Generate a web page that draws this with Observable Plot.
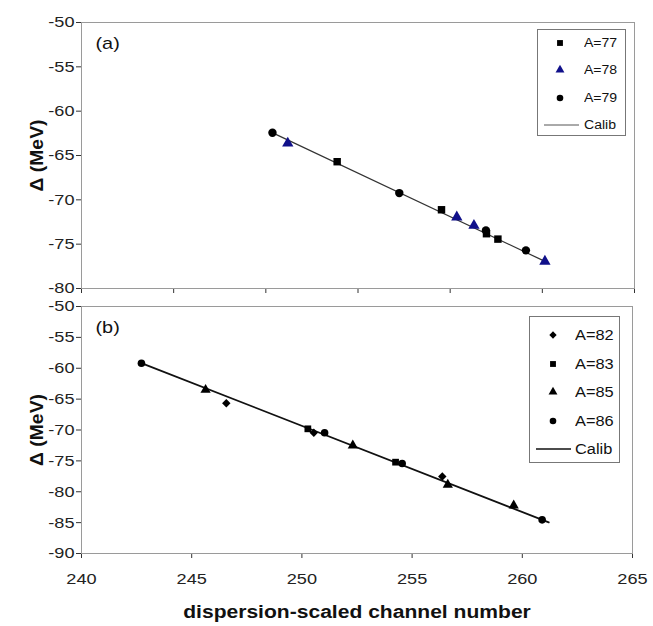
<!DOCTYPE html>
<html><head><meta charset="utf-8">
<script src="https://cdn.jsdelivr.net/npm/d3@7"></script>
<script src="https://cdn.jsdelivr.net/npm/@observablehq/plot@0.6"></script>
<style>
body{margin:0;background:#fff;font-family:"Liberation Sans",Arial,sans-serif;}
#wrap{position:relative;width:653px;height:626px;overflow:hidden;}
.legend{position:absolute;border:1px solid #777;background:#fff;box-sizing:border-box;}
.legend .row{position:absolute;left:0;right:0;height:20px;}
.legend svg{position:absolute;left:0;top:0;}
.legend span{position:absolute;color:#111;white-space:nowrap;transform-origin:left center;}
</style></head>
<body><div id="wrap"></div>
<script>
// ---------- Panel (a) data ----------
const topNames = ["A=77", "A=78", "A=79"];
const topSymbols = ["square", "triangle", "circle"];
const topColors = ["#000000", "#10108a", "#000000"];
const a77x = [253.87, 259.53, 261.97, 262.59];
const a77y = [-65.70, -71.12, -73.82, -74.43];
const a78x = [251.19, 260.36, 261.29, 265.14];
const a78y = [-63.61, -71.95, -72.89, -76.94];
const a79x = [250.36, 257.24, 261.94, 264.11];
const a79y = [-62.44, -69.24, -73.45, -75.70];
const calibTopX = [250.2, 265.2];
const calibTopY = [-62.28, -77.0];
const topYTicks = [-80, -75, -70, -65, -60, -55, -50];
const topXTicks = [240, 245, 250, 255, 260, 265, 270];

// ---------- Panel (b) data ----------
const botNames = ["A=82", "A=83", "A=85", "A=86"];
const botSymbols = ["diamond2", "square", "triangle", "circle"];
const b82x = [246.57, 250.54, 256.37];
const b82y = [-65.66, -70.45, -77.53];
const b83x = [250.27, 254.25];
const b83y = [-69.81, -75.21];
const b85x = [245.63, 252.31, 256.62, 259.61];
const b85y = [-63.49, -72.51, -78.87, -82.23];
const b86x = [242.72, 251.03, 254.55, 260.90];
const b86y = [-59.18, -70.45, -75.43, -84.55];
const calibBotX = [242.6, 261.2];
const calibBotY = [-59.0, -84.96];
const botYTicks = [-90, -85, -80, -75, -70, -65, -60, -55, -50];
const botXTicks = [240, 245, 250, 255, 260, 265];

const toRows = (xs, ys, name) => xs.map((x, i) => ({x, y: ys[i], name}));
const topData = [
  ...toRows(a77x, a77y, topNames[0]),
  ...toRows(a78x, a78y, topNames[1]),
  ...toRows(a79x, a79y, topNames[2])
];
const botData = [
  ...toRows(b82x, b82y, botNames[0]),
  ...toRows(b83x, b83y, botNames[1]),
  ...toRows(b85x, b85y, botNames[2]),
  ...toRows(b86x, b86y, botNames[3])
];
const calibTop = toRows(calibTopX, calibTopY, "Calib");
const calibBot = toRows(calibBotX, calibBotY, "Calib");

const wrap = document.getElementById("wrap");
const fmt = d => String(d);
const STRETCH = 1.17;
const baseStyle = {fontFamily: "Liberation Sans, Arial, sans-serif", fontSize: "15.5px", color: "#333", background: "transparent", overflow: "visible"};

// ---------- Top plot ----------
const topPlot = Plot.plot({
  width: 653, height: 296,
  marginTop: 22, marginBottom: 8, marginLeft: 81, marginRight: 19,
  style: baseStyle,
  x: {domain: [240, 270], ticks: topXTicks, tickFormat: () => "", tickSize: 5, line: true, label: null},
  y: {domain: [-80, -50], ticks: topYTicks, tickFormat: fmt, tickSize: 5, tickPadding: 2, line: true,
      label: "Δ (MeV)", labelAnchor: "center", labelOffset: 51},
  symbol: {domain: topNames, range: topSymbols},
  color: {domain: topNames, range: topColors},
  marks: [
    Plot.frame({stroke: "#9a9a9a"}),
    Plot.line(calibTop, {x: "x", y: "y", stroke: "#333", strokeWidth: 1.2}),
    Plot.dot(topData, {x: "x", y: "y", symbol: "name", fill: "name", r: 4.2, stroke: "none"}),
    Plot.text(["(a)"], {frameAnchor: "top-left", dx: 14, dy: 14, fontSize: 17, fill: "#111", textAnchor: "start"})
  ]
});
topPlot.style.position = "absolute";
topPlot.style.top = "0px";
topPlot.style.left = "0px";
wrap.appendChild(topPlot);

// ---------- Bottom plot ----------
const botPlot = Plot.plot({
  width: 653, height: 330,
  marginTop: 10, marginBottom: 73, marginLeft: 81, marginRight: 21,
  style: baseStyle,
  x: {domain: [240, 265], ticks: botXTicks, tickFormat: fmt, tickSize: 5, tickPadding: 14, line: true,
      label: "dispersion-scaled channel number", labelAnchor: "center", labelOffset: 64},
  y: {domain: [-90, -50], ticks: botYTicks, tickFormat: fmt, tickSize: 5, tickPadding: 2, line: true,
      label: "Δ (MeV)", labelAnchor: "center", labelOffset: 51},
  symbol: {domain: botNames, range: botSymbols},
  marks: [
    Plot.frame({stroke: "#9a9a9a"}),
    Plot.line(calibBot, {x: "x", y: "y", stroke: "#111", strokeWidth: 1.8}),
    Plot.dot(botData, {x: "x", y: "y", symbol: "name", fill: "#000", r: 3.8, stroke: "none"}),
    Plot.text(["(b)"], {frameAnchor: "top-left", dx: 14, dy: 14, fontSize: 17, fill: "#111", textAnchor: "start"})
  ]
});
botPlot.style.position = "absolute";
botPlot.style.top = "296px";
botPlot.style.left = "0px";
wrap.appendChild(botPlot);

function stretch(t, f) {
  const len = t.getComputedTextLength();
  if (len > 0) { t.setAttribute("textLength", (len * f).toFixed(1)); t.setAttribute("lengthAdjust", "spacingAndGlyphs"); }
}
// Style axis labels and tick labels
for (const svg of [topPlot, botPlot]) {
  svg.querySelectorAll("text").forEach(t => { t.textContent = t.textContent.replace(/\s*[↑→↓←]\s*/g, ""); });
  svg.querySelectorAll('[aria-label="y-axis label"] text').forEach(t => {
    t.setAttribute("font-weight", "bold"); t.setAttribute("font-size", "18px"); t.setAttribute("fill", "#111");
    t.setAttribute("textLength", "72"); t.setAttribute("lengthAdjust", "spacingAndGlyphs");
  });
  svg.querySelectorAll('[aria-label="x-axis label"] text').forEach(t => {
    t.setAttribute("font-weight", "bold"); t.setAttribute("font-size", "18px"); t.setAttribute("fill", "#111");
    stretch(t, STRETCH);
  });
  svg.querySelectorAll('[aria-label="y-axis tick label"] text, [aria-label="x-axis tick label"] text').forEach(t => {
    t.setAttribute("fill", "#222");
    stretch(t, STRETCH);
  });
  svg.querySelectorAll('[aria-label="text"] text').forEach(t => stretch(t, STRETCH));
}

// ---------- Legends (HTML) ----------
function legend(box, names, symbols, colors, opts) {
  const div = document.createElement("div");
  div.className = "legend";
  Object.assign(div.style, {left: box[0] + "px", top: box[1] + "px", width: box[2] + "px", height: box[3] + "px"});
  const all = [...names, "Calib"];
  all.forEach((name, i) => {
    const row = document.createElement("div");
    row.className = "row";
    row.style.top = (opts.first + i * opts.step - 10) + "px";
    const svg = d3.create("svg").attr("width", box[2]).attr("height", 20);
    if (name === "Calib") {
      svg.append("line").attr("x1", opts.lineX[0]).attr("x2", opts.lineX[1]).attr("y1", 10).attr("y2", 10)
        .attr("stroke", opts.lineColor).attr("stroke-width", opts.lineWidth);
    } else {
      const sym = {square: d3.symbolSquare, triangle: d3.symbolTriangle, circle: d3.symbolCircle, diamond2: d3.symbolDiamond2}[symbols[i]];
      svg.append("path").attr("d", d3.symbol(sym, Math.PI * opts.r * opts.r)())
        .attr("transform", `translate(${opts.markX},10)`).attr("fill", colors ? colors[i] : "#000");
    }
    row.appendChild(svg.node());
    const sp = document.createElement("span");
    sp.textContent = name;
    Object.assign(sp.style, {left: opts.textX + "px", top: "0px", lineHeight: "20px", fontSize: opts.fontSize + "px", transform: `scaleX(${STRETCH})`});
    row.appendChild(sp);
    div.appendChild(row);
  });
  wrap.appendChild(div);
}
legend([537, 29, 89, 107], topNames, topSymbols, topColors,
  {first: 13, step: 27.3, markX: 22, textX: 46, lineX: [6, 41], r: 3.3, fontSize: 12, lineColor: "#555", lineWidth: 1});
legend([529, 316, 91, 147], botNames, botSymbols, null,
  {first: 18, step: 28.5, markX: 23, textX: 45, lineX: [6, 41], r: 3.3, fontSize: 14, lineColor: "#111", lineWidth: 1.6});
</script>
</body></html>
